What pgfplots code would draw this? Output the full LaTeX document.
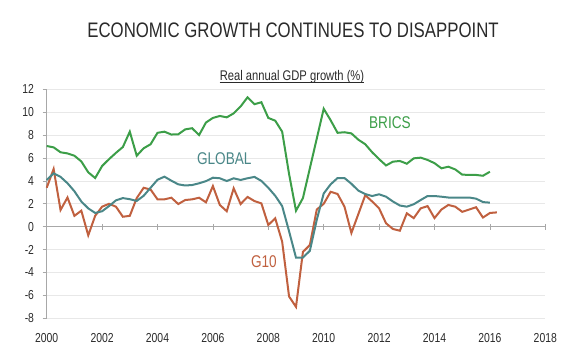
\documentclass[border=0pt]{standalone}
\usepackage{fontspec}
\setmainfont{Liberation Sans}[FakeStretch=0.8]
\usepackage{pgfplots}
\usepackage{pgfplotstable}
\pgfplotsset{compat=1.18}
\definecolor{brics}{HTML}{3C9E48}
\definecolor{glob}{HTML}{4A8788}
\definecolor{gten}{HTML}{C0603F}
\definecolor{gridc}{HTML}{E8E8E8}
\definecolor{axc}{HTML}{A8A8A8}
\definecolor{txt}{HTML}{2A2A2A}

\pgfplotstableread{
x y
2000.00 7.05
2000.25 6.93
2000.50 6.5
2000.75 6.4
2001.00 6.2
2001.25 5.7
2001.50 4.75
2001.75 4.25
2002.00 5.3
2002.25 5.9
2002.50 6.45
2002.75 6.96
2003.00 8.3
2003.25 6.2
2003.50 6.85
2003.75 7.2
2004.00 8.2
2004.25 8.3
2004.50 8.05
2004.75 8.07
2005.00 8.5
2005.25 8.6
2005.50 8.0
2005.75 9.1
2006.00 9.5
2006.25 9.67
2006.50 9.55
2006.75 9.9
2007.00 10.5
2007.25 11.3
2007.50 10.7
2007.75 10.87
2008.00 9.5
2008.25 9.26
2008.50 8.3
2008.75 4.6
2009.00 1.4
2009.25 2.5
2009.50 5.1
2009.75 7.7
2010.00 10.3
2010.25 9.3
2010.50 8.2
2010.75 8.25
2011.00 8.15
2011.25 7.6
2011.50 7.2
2011.75 6.5
2012.00 5.9
2012.25 5.35
2012.50 5.68
2012.75 5.74
2013.00 5.5
2013.25 5.97
2013.50 6.03
2013.75 5.83
2014.00 5.55
2014.25 5.1
2014.50 5.24
2014.75 5.0
2015.00 4.55
2015.25 4.52
2015.50 4.52
2015.75 4.45
2016.00 4.8
}\bricsdata

\pgfplotstableread{
x y
2000.00 4.08
2000.25 4.66
2000.50 4.35
2000.75 3.8
2001.00 3.1
2001.25 2.2
2001.50 1.6
2001.75 1.2
2002.00 1.35
2002.25 1.8
2002.50 2.3
2002.75 2.5
2003.00 2.4
2003.25 2.25
2003.50 2.7
2003.75 3.4
2004.00 4.1
2004.25 4.37
2004.50 4.02
2004.75 3.7
2005.00 3.6
2005.25 3.64
2005.50 3.79
2005.75 3.98
2006.00 4.28
2006.25 4.23
2006.50 3.99
2006.75 4.23
2007.00 4.08
2007.25 4.23
2007.50 4.35
2007.75 4.0
2008.00 3.4
2008.25 2.7
2008.50 1.8
2008.75 -0.4
2009.00 -2.7
2009.25 -2.7
2009.50 -2.1
2009.75 0.6
2010.00 2.9
2010.25 3.7
2010.50 4.25
2010.75 4.25
2011.00 3.75
2011.25 3.15
2011.50 2.85
2011.75 2.68
2012.00 2.83
2012.25 2.62
2012.50 2.2
2012.75 1.85
2013.00 1.75
2013.25 1.96
2013.50 2.33
2013.75 2.68
2014.00 2.68
2014.25 2.62
2014.50 2.55
2014.75 2.53
2015.00 2.53
2015.25 2.55
2015.50 2.45
2015.75 2.15
2016.00 2.1
}\globdata

\pgfplotstableread{
x y
2000.00 3.4
2000.25 5.04
2000.50 1.46
2000.75 2.55
2001.00 0.95
2001.25 1.4
2001.50 -0.75
2001.75 0.95
2002.00 1.75
2002.25 2.0
2002.50 1.75
2002.75 0.87
2003.00 0.95
2003.25 2.5
2003.50 3.4
2003.75 3.25
2004.00 2.39
2004.25 2.39
2004.50 2.53
2004.75 1.98
2005.00 2.33
2005.25 2.39
2005.50 2.53
2005.75 2.13
2006.00 3.55
2006.25 1.9
2006.50 1.35
2006.75 3.35
2007.00 1.98
2007.25 2.6
2007.50 2.24
2007.75 2.04
2008.00 0.15
2008.25 0.73
2008.50 -1.3
2008.75 -6.1
2009.00 -7.0
2009.25 -2.2
2009.50 -1.6
2009.75 1.5
2010.00 2.0
2010.25 3.05
2010.50 2.86
2010.75 1.75
2011.00 -0.55
2011.25 1.1
2011.50 2.75
2011.75 2.2
2012.00 1.6
2012.25 0.3
2012.50 -0.2
2012.75 -0.35
2013.00 1.17
2013.25 0.75
2013.50 1.6
2013.75 1.8
2014.00 0.75
2014.25 1.5
2014.50 1.9
2014.75 1.75
2015.00 1.3
2015.25 1.5
2015.50 1.7
2015.75 0.8
2016.00 1.2
2016.25 1.25
}\gtendata

\begin{document}
\begin{tikzpicture}
\path[use as bounding box] (0,0) rectangle (585pt,360pt);
\node[anchor=base, text=txt, font=\fontsize{21}{24}\selectfont] at (293pt,323pt) {ECONOMIC GROWTH CONTINUES TO DISAPPOINT};
\node[anchor=base, text=txt, font=\fontsize{14}{16}\selectfont, inner sep=0pt] (sub) at (292pt,280pt) {Real annual GDP growth (\%)};
\draw[txt, line width=0.6pt] ([yshift=-2.5pt]sub.base west) -- ([yshift=-2.5pt]sub.base east);
\begin{axis}[
  scale only axis,
  width=498.6pt, height=229pt,
  at={(46.7pt,41.7pt)}, anchor=south west,
  xmin=2000, xmax=2018, ymin=-8, ymax=12,
  axis lines*=left,
  axis line style={-, draw=axc, line width=0.8pt},
  x axis line style={draw=none},
  xtick={2000,2002,2004,2006,2008,2010,2012,2014,2016,2018},
  xticklabels={2000,2002,2004,2006,2008,2010,2012,2014,2016,2018},
  ytick={-8,-6,-4,-2,0,2,4,6,8,10,12},
  yticklabels={-8,-6,-4,-2,0,2,4,6,8,10,12},
  xtick style={draw=none},
  ytick style={draw=axc, line width=0.8pt},
  tick align=outside,
  major tick length=4pt,
  ymajorgrids,
  grid style={gridc, line width=0.8pt},
  ticklabel style={font=\fontsize{13}{15}\selectfont, text=txt},
  yticklabel style={anchor=east, inner sep=0pt, xshift=-8.5pt},
  xticklabel style={anchor=center, inner sep=0pt, yshift=-16pt},
  clip=false,
]
\draw[axc, line width=0.8pt] (axis cs:2000,0) -- (axis cs:2018,0);
\pgfplotsinvokeforeach{2002,2004,2006,2008,2010,2012,2014,2016,2018}{
  \draw[axc, line width=0.8pt] ([yshift=2.8pt]axis cs:#1,0) -- ([yshift=-3.2pt]axis cs:#1,0);
}
\addplot[gten, line width=2pt, no markers] table {\gtendata};
\addplot[glob, line width=2pt, no markers] table {\globdata};
\addplot[brics, line width=2pt, no markers] table {\bricsdata};
\node[text=brics, font=\fontsize{17}{19}\selectfont] at (axis cs:2012.39,9.07) {BRICS};
\node[text=glob, font=\fontsize{17}{19}\selectfont] at (axis cs:2006.41,5.98) {GLOBAL};
\node[text=gten, font=\fontsize{17}{19}\selectfont] at (axis cs:2007.84,-3.08) {G10};
\end{axis}
\end{tikzpicture}
\end{document}
